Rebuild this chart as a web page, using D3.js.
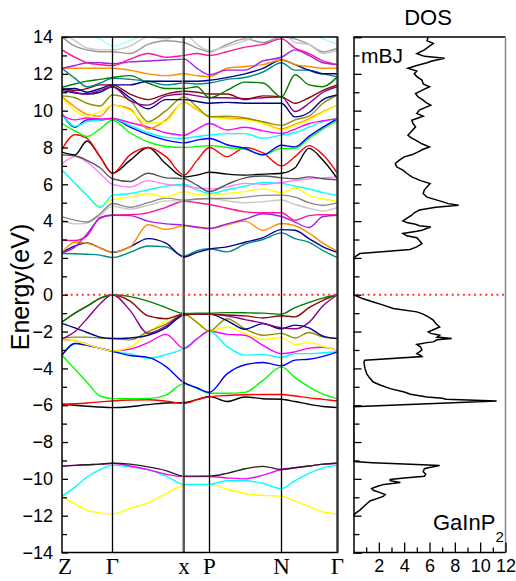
<!DOCTYPE html>
<html>
<head>
<meta charset="utf-8">
<script src="https://cdnjs.cloudflare.com/ajax/libs/d3/7.8.5/d3.min.js"></script>
<style>
  body { margin: 0; background: #fff; }
  svg { display: block; font-family: "Liberation Sans", Arial, sans-serif; }
</style>
</head>
<body>
<div id="chart"></div>
<script>
// k-path sample positions (Z, Γ, X, P, N, Γ and points in between)
const kPath = [0, 13, 25, 38, 50.5, 68, 86, 104, 122, 135, 147.5, 165, 183, 201, 219.5, 233, 247, 261, 275.5];
const kLabels = ['Z', 'Γ', 'x', 'P', 'N', 'Γ'];
const kLabelPos = [0, 50.5, 122, 147.5, 219.5, 275.5];

// band energies (eV), one value per kPath point
const yellowLow  = [-10.95,-11.35,-11.7,-11.85,-11.9,-11.6,-11.3,-10.8,-10.35,-10.3,-10.3,-10.55,-10.8,-10.9,-10.95,-11.2,-11.5,-11.8,-11.9];
const cyanLow    = [-10.95,-10.45,-9.9,-9.5,-9.27,-9.35,-9.5,-9.85,-10.3,-10.3,-10.3,-10.1,-10.1,-10.25,-10.53,-10.1,-9.7,-9.4,-9.27];
const magentaLow = [-9.3,-9.27,-9.23,-9.2,-9.15,-9.3,-9.5,-9.75,-9.88,-9.88,-9.87,-9.95,-10.0,-9.8,-9.49,-9.4,-9.3,-9.2,-9.15];
const blackLow   = [-9.3,-9.27,-9.23,-9.2,-9.15,-9.2,-9.35,-9.55,-9.85,-9.85,-9.85,-9.7,-9.45,-9.32,-9.49,-9.4,-9.3,-9.2,-9.15];
const blackSemi  = [-5.95,-6.0,-6.06,-6.1,-6.13,-6.08,-5.97,-5.88,-5.85,-5.7,-5.52,-5.8,-5.55,-5.65,-5.68,-5.8,-5.95,-6.07,-6.13];
const redSemi    = [-5.95,-5.92,-5.88,-5.82,-5.77,-5.72,-5.7,-5.78,-5.9,-5.7,-5.55,-5.47,-5.43,-5.42,-5.42,-5.5,-5.6,-5.68,-5.77];
const greenVal   = [-3.29,-4.05,-4.75,-5.5,-5.64,-5.65,-5.64,-5.45,-4.83,-5.1,-5.35,-5.35,-5.3,-4.65,-3.92,-4.5,-5.0,-5.4,-5.64];
const cyanVal    = [-3.29,-2.65,-2.75,-2.9,-3.1,-3.2,-3.45,-3.25,-2.92,-2.4,-1.98,-2.8,-3.28,-3.25,-3.4,-3.2,-3.2,-3.15,-3.1];
const blueVal    = [-3.29,-2.65,-2.75,-2.9,-3.07,-3.3,-3.4,-3.9,-4.77,-5.05,-5.3,-4.3,-3.8,-3.68,-3.85,-3.55,-3.5,-3.35,-3.1];
const magentaVal = [-2.44,-2.5,-2.7,-2.9,-3.05,-2.95,-2.6,-2.15,-2.92,-2.4,-1.97,-2.15,-2.2,-2.75,-3.2,-3.1,-2.9,-2.85,-3.02];
const yellowVal  = [-2.44,-2.5,-2.7,-2.9,-3.05,-2.85,-2.05,-1.4,-1.05,-1.5,-1.97,-1.75,-2.1,-2.42,-2.33,-2.7,-2.6,-2.8,-3.02];
const oliveVal   = [-2.38,-2.3,-2.3,-2.35,-2.38,-2.45,-2.0,-1.6,-1.05,-1.5,-1.97,-1.3,-1.85,-2.2,-2.1,-2.35,-2.05,-2.3,-2.38];
const navyVal    = [-1.55,-1.8,-2.05,-2.3,-2.38,-2.35,-2.2,-1.8,-1.1,-1.05,-1.05,-1.4,-1.87,-1.57,-1.85,-1.65,-1.8,-2.25,-2.38];
const purpleVal  = [-2.4,-2.0,-1.3,-0.5,0,-0.85,-2.1,-1.7,-1.05,-1.05,-1.05,-1.15,-1.35,-1.55,-1.8,-1.85,-1.5,-0.6,0];
const maroonVal  = [-1.48,-1.0,-0.62,-0.2,0,-0.35,-1.15,-1.3,-1.05,-1.05,-1.05,-1.1,-1.15,-1.26,-1.14,-1.2,-0.7,-0.3,0];
const dkgreenVal = [-1.48,-1.0,-0.62,-0.2,0,-0.1,-0.35,-0.7,-1.02,-1.0,-1.0,-0.97,-0.98,-1.0,-1.05,-0.7,-0.42,-0.18,0];

const tealCon    = [2.24,2.23,2.2,2.15,2.02,2.3,2.65,2.6,2.1,2.4,2.5,2.33,2.75,3.0,3.36,3.05,2.85,2.4,2.02];
const navyCon    = [2.29,2.65,2.82,2.55,2.3,2.6,3.05,2.8,2.05,2.3,2.48,2.6,2.85,3.1,3.54,3.5,3.05,2.6,2.3];
const orangeCon  = [2.3,2.85,2.8,2.55,2.32,2.6,3.8,3.55,3.74,3.65,3.6,3.8,4.0,3.5,3.87,3.75,3.35,2.8,2.35];
const pinkCon    = [2.96,2.95,3.2,4.2,4.33,4.35,4.45,4.75,5.08,5.0,4.9,4.7,4.5,4.45,4.45,4.05,4.3,4.35,4.33];
const purpleCon  = [2.27,2.6,3.3,4.15,4.32,4.3,4.0,3.85,3.78,3.68,3.6,3.85,4.1,4.4,4.25,3.95,3.65,4.25,4.32];
const ltgrayCon  = [4.05,3.85,3.9,4.3,4.8,4.65,4.85,5.1,5.1,5.2,5.23,5.1,5.0,5.05,5.15,4.9,4.7,4.55,4.75];
const grayCon    = [4.23,4.05,3.95,4.4,4.96,4.75,5.0,5.25,5.14,5.2,5.23,5.23,5.3,5.4,5.41,5.3,5.0,4.85,5.0];
const yellowCon  = [6.77,6.05,5.4,4.8,5.15,5.3,5.5,5.3,5.6,5.45,5.41,5.5,5.6,5.75,5.55,5.8,5.4,5.2,5.1];
const cyanCon    = [6.77,6.05,5.4,4.75,5.4,5.5,5.7,5.9,6.0,5.7,5.5,5.7,5.9,6.1,6.05,5.9,5.75,5.55,5.4];
const plumCon    = [7.1,7.5,7.2,6.6,6.0,5.85,6.2,6.0,5.9,5.8,5.75,5.86,6.05,6.0,6.1,6.2,6.3,6.35,6.4];
const dkgrayCon  = [7.6,7.55,7.3,6.9,6.3,6.15,6.6,6.35,6.3,5.95,5.6,6.0,6.35,6.45,6.35,6.3,6.4,6.3,6.25];
const blackCon   = [7.75,7.6,8.35,7.5,6.6,7.3,8.0,7.1,6.4,6.5,6.65,6.55,6.5,6.55,6.6,6.9,7.95,7.3,6.3];
const redCon     = [7.9,8.7,8.5,7.5,6.6,7.6,8.0,7.5,6.5,7.3,8.0,7.5,8.0,7.7,7.0,7.5,8.1,7.6,6.6];
const greenCon   = [9.3,8.9,8.6,9.0,9.48,8.8,8.3,8.05,8.0,8.05,8.1,8.0,7.9,7.6,7.95,7.95,8.5,9.0,9.48];
const blueCon    = [9.85,9.1,9.5,9.5,9.57,9.1,8.7,8.4,8.25,8.4,8.49,8.15,7.95,7.6,8.12,8.03,8.6,9.1,9.57];
const cyanHigh   = [9.85,9.15,9.4,9.5,9.57,9.2,8.8,8.55,8.5,8.6,8.67,8.75,8.75,8.5,8.67,8.8,9.1,9.4,9.57];
const magentaHigh= [9.75,9.5,9.6,9.55,9.57,9.35,9.1,8.8,8.67,9.0,9.3,8.95,9.1,8.9,8.76,9.0,9.3,9.45,9.57];
const orangeHigh = [10.75,10.2,9.8,9.7,10.3,10.1,9.0,9.5,10.45,10.05,9.7,9.6,9.55,9.35,9.0,9.25,9.55,9.95,10.3];
const yellowHigh = [10.7,10.0,9.7,9.95,10.3,10.0,9.3,9.4,10.5,10.1,9.66,9.55,9.5,9.3,8.95,9.2,9.5,9.9,10.3];
const oliveHigh  = [10.8,10.7,10.4,10.25,10.85,10.55,9.4,10.0,10.75,10.2,9.66,9.7,9.6,9.4,9.2,9.5,9.7,10.4,10.85];
const navyHigh   = [11.1,10.95,10.9,11.0,11.3,10.7,10.1,10.6,10.6,10.5,10.4,10.45,10.4,10.4,10.4,9.66,9.9,10.6,10.85];
const violetHigh = [11.2,11.0,10.9,11.1,11.3,10.55,10.3,10.8,10.9,10.8,10.7,10.7,10.65,10.7,10.75,9.95,10.4,11.0,11.3];
const maroonHigh = [11.2,11.1,11.2,11.4,11.4,10.9,10.6,10.9,11.05,11.0,10.9,10.9,10.6,10.8,10.75,10.4,10.7,11.1,11.4];
const dkgreenHigh= [11.27,11.45,11.6,11.7,11.8,11.9,11.5,11.2,11.2,11.3,10.7,11.1,11.55,11.5,10.75,11.95,11.4,11.3,11.85];
const tealHigh   = [12.3,11.75,11.3,11.5,11.75,11.7,11.6,11.4,11.5,11.45,11.5,11.7,11.8,12.1,12.6,12.2,12.2,12.0,11.85];
const navyTop    = [11.15,11.2,11.0,11.2,11.4,11.4,11.6,11.6,11.6,11.6,11.65,11.8,12.0,12.3,12.75,12.5,12.2,12.0,12.0];
const orangeTop  = [12.3,12.3,12.3,12.3,12.3,12.2,12.0,11.9,12.0,11.9,11.85,12.3,12.4,12.5,12.75,12.5,12.4,12.3,12.3];
const purpleTop  = [12.3,12.45,12.6,12.6,12.55,12.65,12.7,12.75,12.8,12.3,11.95,12.2,12.2,12.7,12.9,13.3,13.0,12.6,12.5];
const pinkTop    = [13.3,12.9,12.6,12.5,12.45,12.8,13.1,12.9,13.0,13.1,13.0,13.2,13.45,13.6,13.9,13.4,13.1,12.7,12.5];
const grayTop    = [14.0,13.5,13.3,13.2,13.2,13.1,13.6,13.8,13.7,13.4,13.2,13.6,13.9,13.7,14.0,13.9,13.6,13.2,13.4];
const ltgrayTop  = [14.2,13.8,13.4,13.3,13.3,13.5,14.0,13.9,14.2,13.6,13.25,13.5,13.8,14.2,14.3,13.7,13.6,13.1,13.3];
const cyanTop    = [14.5,14.3,14.1,13.9,13.5,13.8,14.2,14.4,14.5,14.5,14.3,14.4,14.5,14.6,14.6,14.4,14.2,13.9,13.6];

const bandList = [yellowLow, cyanLow, magentaLow, blackLow, blackSemi, redSemi, greenVal, cyanVal, blueVal,
  magentaVal, yellowVal, oliveVal, navyVal, purpleVal, maroonVal, dkgreenVal,
  tealCon, navyCon, orangeCon, pinkCon, purpleCon, ltgrayCon, grayCon, yellowCon, cyanCon, plumCon, dkgrayCon,
  blackCon, redCon, greenCon, blueCon, cyanHigh, magentaHigh, orangeHigh, yellowHigh, oliveHigh, navyHigh,
  violetHigh, maroonHigh, dkgreenHigh, tealHigh, navyTop, orangeTop, purpleTop, pinkTop, grayTop, ltgrayTop, cyanTop];

// DOS curve (energy, states/eV)
const dosEnergy = [-12.0,-11.95,-11.85,-11.7,-11.45,-11.2,-10.95,-10.85,-10.75,-10.62,-10.53,-10.4,-10.3,-10.26,-10.2,-10.1,-10.03,-9.95,-9.86,-9.75,-9.6,-9.45,-9.38,-9.27,-9.2,-9.12,-9.06,
  -6.08,-5.77,-5.68,-5.62,-5.55,-5.4,-5.28,-5.1,-4.9,-4.74,-4.5,-4.28,-4.0,-3.65,-3.56,
  -3.36,-3.3,-3.2,-3.0,-2.84,-2.7,-2.6,-2.56,-2.45,-2.38,-2.3,-2.2,-2.1,-2.02,-1.9,-1.75,-1.56,-1.38,-1.2,-1.05,-0.93,-0.75,-0.55,-0.39,-0.2,0,
  1.98,2.1,2.24,2.35,2.46,2.6,2.78,2.95,3.1,3.2,3.33,3.45,3.5,3.68,3.75,3.83,3.92,4.01,4.15,4.32,4.45,4.6,4.75,4.86,4.95,5.14,5.3,5.5,5.7,5.85,
  6.04,6.2,6.4,6.6,6.77,6.95,7.13,7.3,7.49,7.6,7.76,7.9,8.03,8.2,8.4,8.55,8.67,8.9,9.12,9.3,9.48,9.6,9.7,9.85,10.03,10.15,10.3,10.45,10.57,10.75,
  10.93,11.1,11.3,11.45,11.66,11.85,12.0,12.15,12.3,12.45,12.6,12.7,12.84,12.95,13.1,13.3,13.5,13.65,13.8,14.0];
const dosDensity = [0,0.05,0.2,0.5,0.9,1.3,2.35,2.5,2.1,1.56,1.43,1.9,2.4,2.9,3.7,2.9,2.9,4.0,5.6,5.7,5.5,5.6,6.0,6.8,4.5,1.5,0,
  0,11.3,7.3,7.0,5.8,4.5,4.0,2.9,2.1,1.56,1.25,1.04,0.9,0.82,0.9,
  5.4,5.3,5.0,5.4,5.3,5.0,5.8,6.3,6.6,7.75,6.6,6.8,6.1,5.9,6.3,6.8,6.5,6.3,5.9,5.5,5.0,3.14,2.3,1.56,0.7,0,
  0,0.2,0.5,2.5,4.46,5.0,5.4,5.2,5.0,4.2,3.9,5.0,5.4,6.1,5.2,4.9,4.2,3.9,4.2,4.6,4.8,5.2,6.5,8.3,7.5,6.6,5.8,5.5,5.6,5.8,
  6.05,5.3,4.6,4.2,3.9,3.4,3.3,3.6,4.0,4.6,5.1,5.5,6.0,5.4,4.9,4.5,4.3,4.6,4.9,4.7,4.6,5.1,5.5,5.0,5.2,5.6,6.1,5.7,5.5,5.1,
  4.9,5.4,6.0,5.5,5.4,5.0,4.8,5.0,4.3,5.0,5.8,6.2,7.2,5.6,5.0,5.6,6.0,6.3,5.8,5.9];

const energyTicks = [-14, -12, -10, -8, -6, -4, -2, 0, 2, 4, 6, 8, 10, 12, 14];
const energyMinor = [-13, -11, -9, -7, -5, -3, -1, 1, 3, 5, 7, 9, 11, 13];
const dosTicks = [2, 4, 6, 8, 10, 12];
const dosMinor = [1, 3, 5, 7, 9, 11];

const bandColors = ['#ffff00', '#00ffff', '#ff00ff', '#222222', '#000000', '#ff0000', '#00ff00', '#00ffff', '#0000ff',
  '#ff00ff', '#ffff00', '#8f8f00', '#00008b', '#8b008b', '#8b0a0a', '#007f00',
  '#008b8b', '#00008b', '#ff9000', '#ff1493', '#a020f0', '#c8c8c8', '#888888', '#ffff00', '#00ffff', '#ff80ff', '#555555',
  '#000000', '#ff0000', '#00ff00', '#0000ff', '#00ffff', '#ff00ff', '#ff9000', '#ffff00', '#8f8f00', '#00008b',
  '#8b008b', '#8b0a0a', '#007f00', '#008b8b', '#00008b', '#ff9000', '#a020f0', '#ff1493', '#999999', '#c8c8c8', '#a0ffff'];

const width = 516, height = 581;
const svg = d3.select('#chart').append('svg').attr('width', width).attr('height', height);

const bandLeft = 62, bandRight = 337.5, dosLeft = 353.5, dosRight = 505.5;
const plotTop = 37, plotBottom = 552.5;

const xBand = d3.scaleLinear().domain([0, 275.5]).range([bandLeft, bandRight]);
const yScale = d3.scaleLinear().domain([-14, 14]).range([plotBottom, plotTop]);
const xDos = d3.scaleLinear().domain([0, 12]).range([dosLeft, dosRight]);

const defs = svg.append('defs');
defs.append('clipPath').attr('id', 'clipBand').append('rect')
  .attr('x', bandLeft).attr('y', plotTop).attr('width', bandRight - bandLeft).attr('height', plotBottom - plotTop);
defs.append('clipPath').attr('id', 'clipDos').append('rect')
  .attr('x', dosLeft).attr('y', plotTop).attr('width', dosRight - dosLeft).attr('height', plotBottom - plotTop);

// bands
const bandLine = d3.line()
  .x((d, i) => xBand(kPath[i]))
  .y(d => yScale(d))
  .curve(d3.curveMonotoneX);

svg.append('g').attr('clip-path', 'url(#clipBand)')
  .selectAll('path').data(bandList).enter().append('path')
  .attr('d', bandLine)
  .attr('fill', 'none')
  .attr('stroke', (d, i) => bandColors[i])
  .attr('stroke-width', 1.4);

// high-symmetry lines
svg.append('line').attr('x1', xBand(122) - 1.6).attr('x2', xBand(122) - 1.6)
  .attr('y1', plotTop).attr('y2', plotBottom).attr('stroke', '#aaa').attr('stroke-width', 1);
svg.selectAll('.kline').data(kLabelPos.slice(1, 5)).enter().append('line')
  .attr('class', 'kline')
  .attr('x1', d => xBand(d)).attr('x2', d => xBand(d))
  .attr('y1', plotTop).attr('y2', plotBottom)
  .attr('stroke', '#000').attr('stroke-width', 1.3);

// Fermi level
[[bandLeft, bandRight], [dosLeft, dosRight]].forEach(([a, b]) => {
  svg.append('line').attr('x1', a + 3).attr('x2', b)
    .attr('y1', yScale(0)).attr('y2', yScale(0))
    .attr('stroke', '#ff3333').attr('stroke-width', 2)
    .attr('stroke-dasharray', '2,3.6');
});

// band panel frame
svg.append('rect').attr('x', bandLeft).attr('y', plotTop)
  .attr('width', bandRight - bandLeft).attr('height', plotBottom - plotTop)
  .attr('fill', 'none').attr('stroke', '#000').attr('stroke-width', 1.5);
svg.append('line').attr('x1', bandRight).attr('x2', bandRight).attr('y1', plotTop).attr('y2', plotBottom)
  .attr('stroke', '#333').attr('stroke-width', 2.2);

// energy axis
const yAxisG = svg.append('g').attr('transform', `translate(${bandLeft},0)`)
  .call(d3.axisLeft(yScale).tickValues(energyTicks).tickSize(-6).tickPadding(9));
yAxisG.select('.domain').remove();
yAxisG.selectAll('text').style('font-size', '18px').attr('fill', '#000');
yAxisG.selectAll('line').attr('stroke-width', 1.3);
const yMinorG = svg.append('g').attr('transform', `translate(${bandLeft},0)`)
  .call(d3.axisLeft(yScale).tickValues(energyMinor).tickSize(-5).tickFormat(''));
yMinorG.select('.domain').remove();
yMinorG.selectAll('line').attr('stroke-width', 1.3);

svg.append('text')
  .attr('transform', 'translate(29,287) rotate(-90)')
  .attr('text-anchor', 'middle')
  .style('font-size', '25px')
  .text('Energy(eV)');

// k-point labels
svg.selectAll('.klabel').data(kLabels).enter().append('text')
  .attr('class', 'klabel')
  .attr('x', (d, i) => xBand(kLabelPos[i]) + (i === 0 ? 3 : 0))
  .attr('y', 574)
  .attr('text-anchor', 'middle')
  .style('font-family', '"Liberation Serif", "Times New Roman", serif')
  .style('font-size', '23px')
  .text(d => d);

// DOS panel
svg.append('path')
  .datum(d3.zip(dosEnergy, dosDensity))
  .attr('clip-path', 'url(#clipDos)')
  .attr('d', d3.line().x(d => xDos(d[1])).y(d => yScale(d[0])))
  .attr('fill', 'none')
  .attr('stroke', '#000')
  .attr('stroke-width', 1.5);

svg.append('line').attr('x1', dosLeft).attr('x2', dosRight).attr('y1', plotTop).attr('y2', plotTop)
  .attr('stroke', '#000').attr('stroke-width', 1.5);
svg.append('line').attr('x1', dosRight).attr('x2', dosRight).attr('y1', plotTop).attr('y2', plotBottom)
  .attr('stroke', '#888').attr('stroke-width', 1.5);

const dosXAxis = svg.append('g').attr('transform', `translate(0,${plotBottom})`)
  .call(d3.axisBottom(xDos).tickValues(dosTicks).tickSize(-10).tickPadding(7));
dosXAxis.select('.domain').attr('stroke-width', 1.5).attr('d', `M${dosLeft},0H${dosRight}`);
dosXAxis.selectAll('text').style('font-size', '18px').attr('fill', '#000');
dosXAxis.selectAll('line').attr('stroke-width', 1.3);
const dosXMinor = svg.append('g').attr('transform', `translate(0,${plotBottom})`)
  .call(d3.axisBottom(xDos).tickValues(dosMinor).tickSize(-5).tickFormat(''));
dosXMinor.select('.domain').remove();
dosXMinor.selectAll('line').attr('stroke-width', 1.3);

const dosYAxis = svg.append('g').attr('transform', `translate(${dosLeft},0)`)
  .call(d3.axisRight(yScale).tickValues(energyTicks).tickSize(8).tickFormat(''));
dosYAxis.select('.domain').attr('stroke-width', 1.5);
dosYAxis.selectAll('line').attr('stroke-width', 1.3);
const dosYMinor = svg.append('g').attr('transform', `translate(${dosLeft},0)`)
  .call(d3.axisRight(yScale).tickValues(energyMinor).tickSize(6).tickFormat(''));
dosYMinor.select('.domain').remove();
dosYMinor.selectAll('line').attr('stroke-width', 1.3);

svg.append('text').attr('x', 428).attr('y', 25).attr('text-anchor', 'middle')
  .style('font-size', '22px').text('DOS');
svg.append('text').attr('x', 361).attr('y', 63)
  .style('font-size', '21px').text('mBJ');
const formula = svg.append('text').attr('x', 433).attr('y', 530).style('font-size', '22px');
formula.append('tspan').text('GaInP');
formula.append('tspan').attr('dy', 12).style('font-size', '15px').text('2');
</script>
</body>
</html>
